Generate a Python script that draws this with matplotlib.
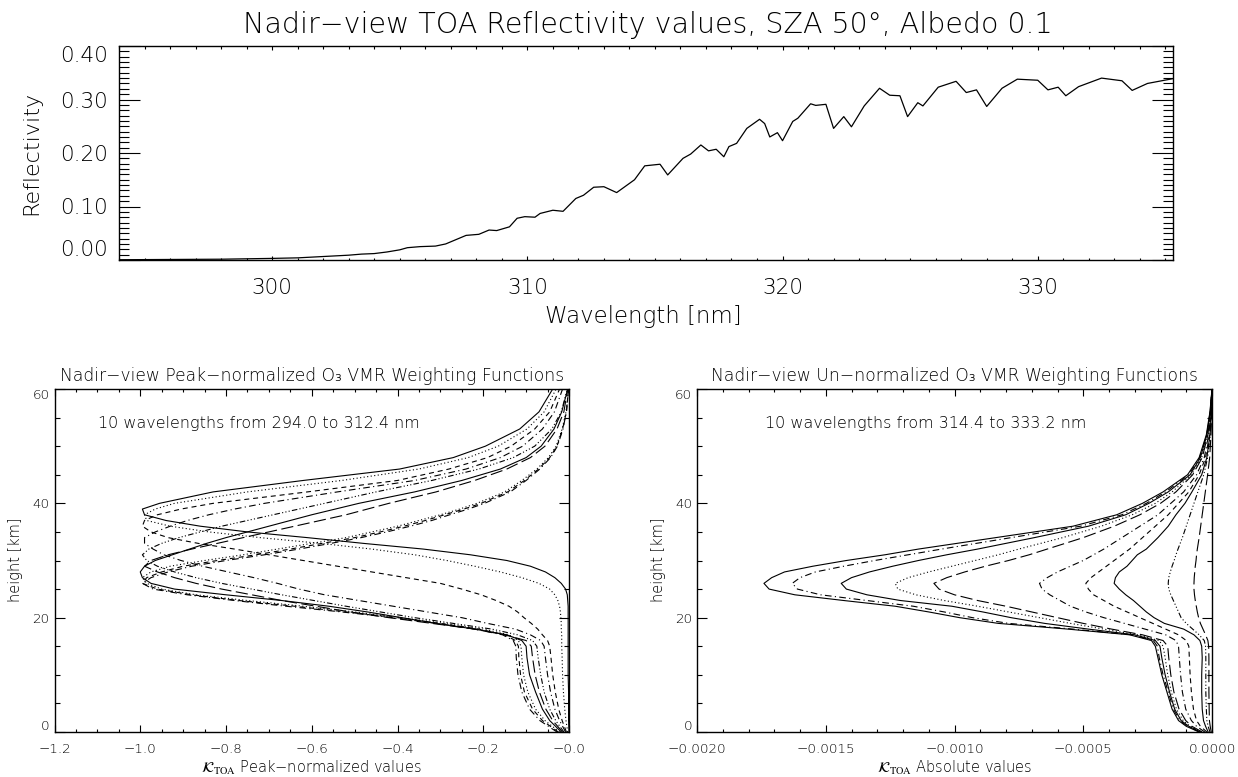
import matplotlib.pyplot as plt
import numpy as np
from matplotlib.ticker import FixedLocator, FixedFormatter, MultipleLocator

plt.rcParams.update({
    'font.family': 'DejaVu Sans',
    'font.weight': 'light',
    'mathtext.fontset': 'stix',
})

# ---------------- top panel: nadir TOA reflectivity spectrum ----------------
wavelength = [294.0, 296.0, 298.0, 300.0, 301.0, 302.0, 303.0, 303.5, 304.0, 304.5,
              305.0, 305.3, 305.8, 306.4, 306.8, 307.2, 307.6, 308.1, 308.5, 308.8,
              309.3, 309.6, 309.9, 310.3, 310.5, 311.0, 311.4, 311.9, 312.2, 312.6,
              313.0, 313.5, 314.2, 314.6, 315.2, 315.5, 316.1, 316.4, 316.8, 317.1,
              317.4, 317.7, 317.9, 318.2, 318.6, 319.1, 319.3, 319.5, 319.8, 320.0,
              320.4, 320.6, 321.1, 321.3, 321.7, 322.0, 322.4, 322.7, 323.2, 323.8,
              324.2, 324.6, 324.9, 325.3, 325.5, 326.1, 326.8, 327.2, 327.6, 328.0,
              328.6, 329.2, 330.0, 330.4, 330.8, 331.1, 331.6, 332.5, 333.3, 333.7,
              334.3, 335.3]
reflectivity = [0.0005, 0.001, 0.0015, 0.003, 0.004, 0.0065, 0.009, 0.011, 0.012, 0.015,
                0.019, 0.023, 0.025, 0.026, 0.030, 0.038, 0.046, 0.048, 0.056, 0.055,
                0.062, 0.078, 0.081, 0.080, 0.087, 0.093, 0.091, 0.115, 0.121, 0.136,
                0.137, 0.126, 0.150, 0.176, 0.179, 0.159, 0.190, 0.198, 0.215, 0.204,
                0.207, 0.193, 0.212, 0.218, 0.246, 0.263, 0.255, 0.230, 0.238, 0.223,
                0.259, 0.265, 0.292, 0.289, 0.291, 0.246, 0.268, 0.249, 0.288, 0.321,
                0.308, 0.307, 0.268, 0.294, 0.288, 0.323, 0.334, 0.313, 0.318, 0.287,
                0.321, 0.338, 0.336, 0.318, 0.323, 0.307, 0.324, 0.340, 0.335, 0.317,
                0.330, 0.339]
top_xticks = [300, 310, 320, 330]
top_yticks = [0.0, 0.1, 0.2, 0.3, 0.4]
top_ylabels = ['0.00', '0.10', '0.20', '0.30', '0.40']

# ---------------- lower left: peak-normalized weighting functions ----------------
height_pk = [0, 2, 4, 7, 10, 13, 15, 16, 17, 18, 19, 20, 21, 22, 23, 24, 25, 26, 27, 28,
             29, 30, 31, 32, 33, 34, 35, 36, 37, 38, 39, 40, 42, 44, 46, 48, 50, 53, 56, 60]
pk_294_0 = [0.0, -0.001, -0.001, -0.001, -0.002, -0.002, -0.002, -0.002, -0.002, -0.002,
            -0.002, -0.002, -0.002, -0.002, -0.003, -0.004, -0.008, -0.018, -0.033, -0.055,
            -0.09, -0.145, -0.23, -0.34, -0.48, -0.61, -0.75, -0.86, -0.94, -0.99,
            -0.995, -0.955, -0.83, -0.62, -0.395, -0.27, -0.195, -0.115, -0.07, -0.038]
pk_296_0 = [-0.003, -0.007, -0.01, -0.013, -0.015, -0.016, -0.017, -0.017, -0.017, -0.018,
            -0.018, -0.019, -0.02, -0.022, -0.026, -0.033, -0.045, -0.07, -0.11, -0.16,
            -0.22, -0.285, -0.36, -0.46, -0.58, -0.72, -0.84, -0.93, -0.985, -0.99,
            -0.965, -0.92, -0.75, -0.53, -0.35, -0.235, -0.165, -0.098, -0.058, -0.03]
pk_298_1 = [-0.006, -0.016, -0.024, -0.032, -0.038, -0.042, -0.045, -0.05, -0.062, -0.073,
            -0.088, -0.105, -0.12, -0.14, -0.17, -0.205, -0.25, -0.30, -0.38, -0.46,
            -0.54, -0.62, -0.70, -0.78, -0.865, -0.935, -0.975, -0.995, -0.99, -0.96,
            -0.905, -0.83, -0.61, -0.40, -0.28, -0.19, -0.135, -0.08, -0.045, -0.022]
pk_300_1 = [-0.008, -0.022, -0.033, -0.043, -0.05, -0.055, -0.058, -0.066, -0.09, -0.125,
            -0.19, -0.25, -0.33, -0.41, -0.49, -0.57, -0.63, -0.68, -0.735, -0.795,
            -0.855, -0.905, -0.945, -0.97, -0.99, -0.99, -0.965, -0.93, -0.89, -0.84,
            -0.78, -0.71, -0.54, -0.36, -0.24, -0.16, -0.108, -0.062, -0.034, -0.015]
pk_302_2 = [-0.012, -0.031, -0.045, -0.058, -0.066, -0.072, -0.075, -0.085, -0.12, -0.18,
            -0.27, -0.36, -0.44, -0.52, -0.595, -0.67, -0.74, -0.81, -0.87, -0.92,
            -0.96, -0.985, -0.995, -0.98, -0.95, -0.91, -0.86, -0.81, -0.75, -0.69,
            -0.63, -0.57, -0.45, -0.32, -0.21, -0.13, -0.08, -0.04, -0.018, -0.004]
pk_304_2 = [-0.015, -0.038, -0.054, -0.069, -0.079, -0.085, -0.088, -0.10, -0.15, -0.22,
            -0.32, -0.42, -0.51, -0.59, -0.67, -0.74, -0.81, -0.87, -0.92, -0.96,
            -0.99, -0.975, -0.935, -0.88, -0.82, -0.76, -0.70, -0.64, -0.58, -0.52,
            -0.47, -0.42, -0.31, -0.22, -0.145, -0.09, -0.056, -0.028, -0.012, -0.003]
pk_306_3 = [-0.018, -0.045, -0.062, -0.078, -0.092, -0.098, -0.10, -0.11, -0.145, -0.22,
            -0.31, -0.39, -0.47, -0.56, -0.67, -0.80, -0.92, -0.975, -0.995, -1.0,
            -0.99, -0.965, -0.925, -0.885, -0.845, -0.80, -0.75, -0.70, -0.65, -0.60,
            -0.545, -0.49, -0.36, -0.25, -0.16, -0.10, -0.065, -0.035, -0.017, -0.003]
pk_308_3 = [-0.022, -0.056, -0.078, -0.096, -0.106, -0.11, -0.112, -0.118, -0.14, -0.20,
            -0.29, -0.39, -0.50, -0.62, -0.75, -0.87, -0.95, -0.985, -0.995, -0.975,
            -0.93, -0.85, -0.76, -0.68, -0.60, -0.52, -0.46, -0.40, -0.35, -0.30,
            -0.255, -0.215, -0.15, -0.11, -0.075, -0.048, -0.03, -0.016, -0.007, -0.001]
pk_310_4 = [-0.025, -0.062, -0.085, -0.104, -0.113, -0.117, -0.118, -0.125, -0.15, -0.21,
            -0.30, -0.40, -0.52, -0.64, -0.77, -0.88, -0.96, -0.995, -0.985, -0.95,
            -0.90, -0.82, -0.73, -0.65, -0.575, -0.50, -0.44, -0.385, -0.335, -0.29,
            -0.245, -0.205, -0.143, -0.104, -0.071, -0.045, -0.028, -0.015, -0.006, -0.001]
pk_312_4 = [-0.028, -0.068, -0.092, -0.11, -0.119, -0.123, -0.124, -0.13, -0.155, -0.22,
            -0.31, -0.41, -0.53, -0.66, -0.78, -0.89, -0.97, -0.995, -0.975, -0.935,
            -0.88, -0.80, -0.71, -0.63, -0.555, -0.485, -0.425, -0.37, -0.32, -0.278,
            -0.235, -0.197, -0.137, -0.10, -0.068, -0.043, -0.027, -0.014, -0.006, -0.001]
pk_xticks = [-1.2, -1.0, -0.8, -0.6, -0.4, -0.2, 0.0]
pk_xlabels = ['\u22121.2', '\u22121.0', '\u22120.8', '\u22120.6', '\u22120.4', '\u22120.2', '\u22120.0']

# ---------------- lower right: un-normalized weighting functions (units 1e-4) ----------------
height_un = [0, 1, 2, 4, 7, 10, 13, 15, 16, 17, 18, 19, 20, 21, 22, 23, 24, 25, 26, 27,
             28, 29, 30, 31, 32, 34, 36, 38, 40, 42, 45, 48, 52, 56, 60]
un_314_4 = [-0.5, -1.0, -1.3, -1.55, -1.75, -1.95, -2.1, -2.2, -2.35, -3.2,
            -5.6, -8.3, -9.8, -11.0, -12.3, -14.3, -16.2, -17.2, -17.4, -17.1,
            -16.6, -15.5, -14.2, -12.7, -11.4, -8.4, -5.4, -3.7, -2.7, -1.9,
            -0.95, -0.5, -0.22, -0.08, 0.0]
un_316_5 = [-0.48, -0.95, -1.25, -1.5, -1.7, -1.9, -2.05, -2.12, -2.28, -3.1,
            -5.4, -7.9, -9.3, -10.4, -11.6, -13.4, -15.2, -16.1, -16.3, -16.0,
            -15.4, -14.3, -13.1, -11.8, -10.5, -7.8, -5.1, -3.5, -2.55, -1.8,
            -0.9, -0.48, -0.2, -0.07, 0.0]
un_318_6 = [-0.45, -0.9, -1.2, -1.45, -1.65, -1.82, -1.95, -2.02, -2.2, -3.0,
            -4.8, -6.5, -7.8, -8.9, -10.1, -12.1, -13.4, -14.2, -14.4, -14.0,
            -13.3, -12.4, -11.4, -10.3, -9.1, -6.9, -4.8, -3.35, -2.45, -1.7,
            -0.85, -0.45, -0.2, -0.07, 0.0]
un_320_7 = [-0.42, -0.85, -1.12, -1.38, -1.58, -1.72, -1.82, -1.9, -2.05, -2.9,
            -4.2, -5.5, -6.7, -7.9, -9.1, -10.4, -11.5, -12.2, -12.3, -11.8,
            -11.0, -10.1, -9.2, -8.3, -7.5, -5.8, -4.3, -3.1, -2.2, -1.55,
            -0.8, -0.4, -0.18, -0.06, 0.0]
un_322_8 = [-0.38, -0.78, -1.02, -1.28, -1.48, -1.6, -1.68, -1.72, -1.9, -2.7,
            -3.9, -5.0, -6.0, -7.0, -8.0, -9.1, -10.0, -10.6, -10.8, -10.3,
            -9.6, -8.8, -7.9, -7.1, -6.4, -5.0, -3.8, -2.8, -2.0, -1.4,
            -0.75, -0.38, -0.16, -0.05, 0.0]
un_324_8 = [-0.28, -0.6, -0.8, -1.02, -1.15, -1.22, -1.27, -1.3, -1.4, -1.8,
            -2.6, -3.4, -4.2, -4.9, -5.5, -5.9, -6.3, -6.6, -6.7, -6.4,
            -6.0, -5.5, -5.0, -4.6, -4.2, -3.5, -2.8, -2.1, -1.6, -1.1,
            -0.6, -0.3, -0.13, -0.04, 0.0]
un_326_9 = [-0.2, -0.45, -0.6, -0.72, -0.8, -0.85, -0.88, -0.9, -1.0, -1.3,
            -1.8, -2.3, -2.8, -3.3, -3.8, -4.2, -4.6, -4.8, -4.9, -4.7,
            -4.4, -4.1, -3.8, -3.5, -3.2, -2.7, -2.2, -1.7, -1.3, -0.9,
            -0.5, -0.25, -0.1, -0.03, 0.0]
un_329_0 = [-0.15, -0.25, -0.33, -0.38, -0.4, -0.4, -0.38, -0.4, -0.47, -0.7,
            -1.1, -1.85, -2.25, -2.55, -2.8, -3.05, -3.35, -3.6, -3.8, -3.75,
            -3.6, -3.3, -3.1, -2.9, -2.55, -2.1, -1.7, -1.4, -1.05, -0.78,
            -0.4, -0.2, -0.08, -0.02, 0.0]
un_331_1 = [-0.08, -0.15, -0.2, -0.22, -0.24, -0.24, -0.24, -0.25, -0.3, -0.5,
            -0.75, -1.0, -1.2, -1.3, -1.4, -1.5, -1.6, -1.68, -1.7, -1.68,
            -1.62, -1.55, -1.47, -1.4, -1.32, -1.15, -1.0, -0.85, -0.7, -0.55,
            -0.32, -0.17, -0.07, -0.02, 0.0]
un_333_2 = [-0.03, -0.07, -0.1, -0.11, -0.12, -0.12, -0.12, -0.13, -0.16, -0.25,
            -0.35, -0.45, -0.52, -0.57, -0.61, -0.65, -0.68, -0.7, -0.7, -0.69,
            -0.67, -0.65, -0.62, -0.6, -0.57, -0.5, -0.44, -0.38, -0.32, -0.26,
            -0.17, -0.09, -0.04, -0.01, 0.0]
un_xticks = [-0.0020, -0.0015, -0.0010, -0.0005, 0.0]
un_xlabels = ['\u22120.0020', '\u22120.0015', '\u22120.0010', '\u22120.0005', '0.0000']
height_ticks = [0, 20, 40, 60]
height_labels = ['0', '20', '40', '60']

# IDL-like line styles
SOLID = '-'
DOTTED = (0, (1, 2.2))
DASHED = (0, (4.5, 3.5))
DASHDOT = (0, (6, 3, 1, 3))
DASHDOT3 = (0, (5, 2, 1, 2, 1, 2, 1, 2))
LONGDASH = (0, (11, 4))

pk_curves = [pk_294_0, pk_296_0, pk_298_1, pk_300_1, pk_302_2,
             pk_304_2, pk_306_3, pk_308_3, pk_310_4, pk_312_4]
pk_styles = [SOLID, DOTTED, DASHED, DASHDOT, DASHDOT3, LONGDASH, SOLID, DOTTED, DASHED, DASHDOT]
un_curves = [un_314_4, un_316_5, un_318_6, un_320_7, un_322_8,
             un_324_8, un_326_9, un_329_0, un_331_1, un_333_2]
un_styles = [SOLID, DASHDOT, SOLID, DOTTED, LONGDASH, DASHDOT, DASHED, SOLID, DASHDOT3, LONGDASH]

W, H = 1238, 777


def px(x, y):
    return x / W, 1 - y / H


def box(x0, y0, x1, y1):
    return [x0 / W, 1 - y1 / H, (x1 - x0) / W, (y1 - y0) / H]


def frame(ax, xmaj, xmin, ymaj, ymin, size, xpad, ypad):
    for s in ax.spines.values():
        s.set_linewidth(1.0)
    ax.tick_params(which='both', direction='in', top=True, right=True,
                   width=0.8, labelsize=size, colors='black')
    ax.tick_params(axis='x', which='major', length=xmaj, pad=xpad)
    ax.tick_params(axis='x', which='minor', length=xmin)
    ax.tick_params(axis='y', which='major', length=ymaj, pad=ypad)
    ax.tick_params(axis='y', which='minor', length=ymin)


fig = plt.figure(figsize=(W / 100, H / 100), dpi=100)

# ---- top panel
ax = fig.add_axes(box(119, 46, 1173, 260))
ax.plot(wavelength, reflectivity, color='black', lw=0.9)
ax.set_xlim(294.0, 335.3)
ax.set_ylim(0, 0.40)
ax.xaxis.set_major_locator(FixedLocator(top_xticks))
ax.xaxis.set_minor_locator(MultipleLocator(1))
ax.yaxis.set_major_locator(FixedLocator(top_yticks))
ax.yaxis.set_major_formatter(FixedFormatter(top_ylabels))
ax.yaxis.set_minor_locator(MultipleLocator(0.01))
frame(ax, 3.2, 1.8, 15, 7.5, 15.5, 13, 8)
yt = ax.yaxis.get_major_ticks()
yt[0].label1.set_va('bottom')
yt[-1].label1.set_va('top')
fig.text(*px(648, 33), 'Nadir\u2212view TOA Reflectivity values, SZA 50\u00b0, Albedo 0.1',
         ha='center', va='baseline', fontsize=20.5)
fig.text(*px(31, 153), 'Reflectivity', rotation=90, ha='center', va='center', fontsize=16)
fig.text(*px(643, 317), 'Wavelength [nm]', ha='center', va='center', fontsize=16.5)


def weighting_panel(x0, x1, heights, curves, styles, scale, xticks, xlabels, xlim, xminor,
                    title, note, note_x, xlabel, ylab_x):
    ax = fig.add_axes(box(x0, 389, x1, 732))
    for vals, ls in zip(curves, styles):
        ax.plot(np.array(vals) * scale, heights, color='black', lw=0.8, linestyle=ls)
    ax.set_xlim(*xlim)
    ax.set_ylim(0, 60)
    ax.xaxis.set_major_locator(FixedLocator(xticks))
    ax.xaxis.set_major_formatter(FixedFormatter(xlabels))
    ax.xaxis.set_minor_locator(MultipleLocator(xminor))
    ax.yaxis.set_major_locator(FixedLocator(height_ticks))
    ax.yaxis.set_major_formatter(FixedFormatter(height_labels))
    ax.yaxis.set_minor_locator(MultipleLocator(5))
    frame(ax, 5, 2.5, 7.4, 3.7, 9.7, 8, 3.6)
    yt = ax.yaxis.get_major_ticks()
    yt[0].label1.set_va('bottom')
    yt[-1].label1.set_va('top')
    xc = (x0 + x1) / 2
    fig.text(*px(xc, 381), title, ha='center', va='baseline', fontsize=12.3)
    ax.text(note_x, 0.886, note, transform=ax.transAxes,
            ha='left', va='baseline', fontsize=11.5)
    fig.text(*px(xc, 773), xlabel, ha='center', va='baseline', fontsize=10.5)
    fig.text(*px(ylab_x, 560), 'height [km]', rotation=90, ha='center', va='center',
             fontsize=10.5)
    return ax


weighting_panel(54.5, 569, height_pk, pk_curves, pk_styles, 1.0, pk_xticks, pk_xlabels,
                (-1.2, 0.0), 0.05,
                'Nadir\u2212view Peak\u2212normalized O\u2083 VMR Weighting Functions',
                '10 wavelengths from 294.0 to 312.4 nm', 0.085,
                '$\\mathcal{K}_{\\mathrm{TOA}}$ Peak\u2212normalized values', 16)
weighting_panel(697, 1212, height_un, un_curves, un_styles, 1e-4, un_xticks, un_xlabels,
                (-0.0020, 0.0), 0.0001,
                'Nadir\u2212view Un\u2212normalized O\u2083 VMR Weighting Functions',
                '10 wavelengths from 314.4 to 333.2 nm', 0.132,
                '$\\mathcal{K}_{\\mathrm{TOA}}$ Absolute values', 658)

fig.savefig('out.png', dpi=100)
